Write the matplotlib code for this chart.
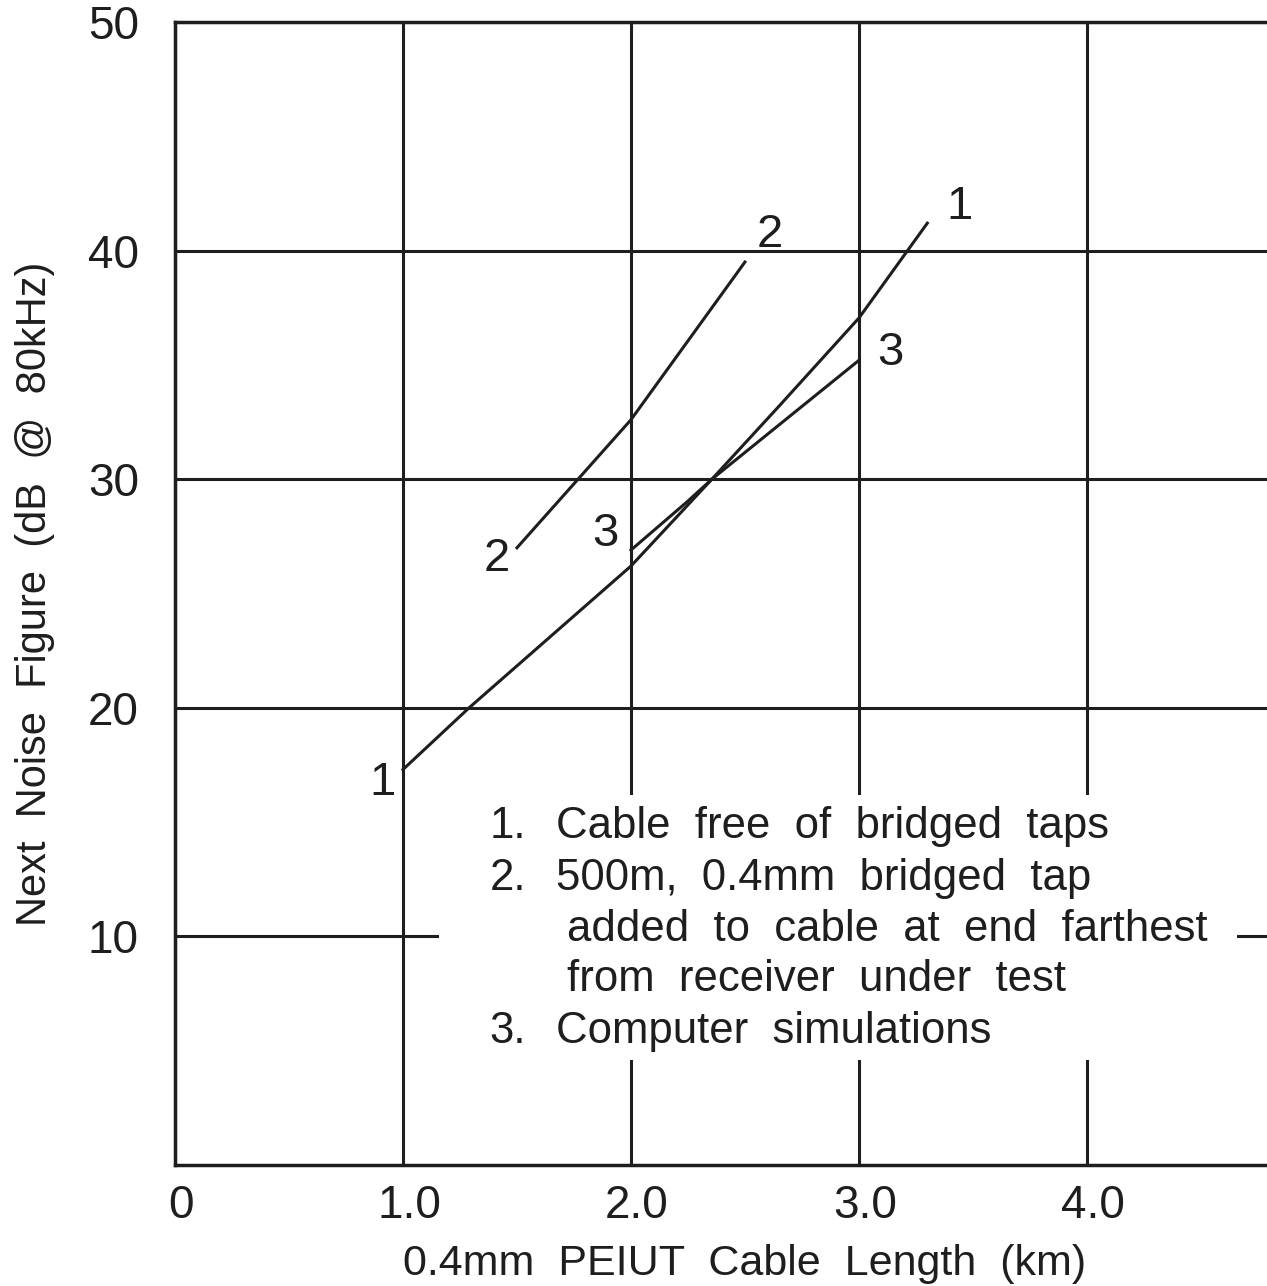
import matplotlib
matplotlib.use('Agg')
from matplotlib import pyplot as plt
from matplotlib.patches import Rectangle
from matplotlib.transforms import ScaledTranslation

plt.rcParams['font.family'] = ['Liberation Sans', 'DejaVu Sans']

# Curve 1: cable free of bridged taps
x1 = [1.0, 1.29, 2.0, 2.355, 2.65, 3.0, 3.3]
y1 = [17.3, 20.0, 26.2, 30.0, 33.2, 37.05, 41.2]
# Curve 2: 500 m, 0.4 mm bridged tap
x2 = [1.5, 2.0, 2.5]
y2 = [27.0, 32.6, 39.5]
# Curve 3: computer simulations
x3 = [2.0, 2.245, 2.355, 3.0]
y3 = [26.9, 29.0, 30.0, 35.2]

xticks = [0, 1.0, 2.0, 3.0, 4.0]
xticklabels = ['0', '1.0', '2.0', '3.0', '4.0']
yticks = [10, 20, 30, 40, 50]

legend_nums = ['1.', '2.', '', '', '3.']
legend_texts = ['Cable  free  of  bridged  taps',
                '500m,  0.4mm  bridged  tap',
                'added  to  cable  at  end  farthest',
                'from  receiver  under  test',
                'Computer  simulations']

ink = '#1e1e1e'

fig = plt.figure(figsize=(12.67, 12.86), dpi=100)
ax = fig.add_axes([175/1267, 1 - 1165/1286, 1 - 175/1267, (1165 - 22)/1286])

ax.set_xlim(0, 4.79)
ax.set_ylim(0, 50)

for s in ['left', 'top', 'bottom']:
    ax.spines[s].set_linewidth(2.5)
    ax.spines[s].set_color(ink)
ax.spines['right'].set_visible(False)

ax.set_xticks(xticks)
ax.set_xticklabels(xticklabels)
ax.set_yticks(yticks)
ax.tick_params(length=0, labelsize=33, colors=ink)
ax.tick_params(axis='x', pad=14)
ax.tick_params(axis='y', pad=26)
for lbl in ax.get_xticklabels():
    lbl.set_transform(lbl.get_transform() + ScaledTranslation(0.06, 0, fig.dpi_scale_trans))

ax.set_axisbelow(True)
ax.grid(True, color=ink, linewidth=2.2)

# blank area behind the legend text, as in the original
ax.add_patch(Rectangle((1.16, 4.6), 4.66 - 1.16, 16.2 - 4.6,
                       facecolor='white', edgecolor='none', zorder=1))

kw = dict(color=ink, linewidth=2.2, zorder=2)
ax.plot(x1, y1, **kw)
ax.plot(x2, y2, **kw)
ax.plot(x3, y3, **kw)

lab = dict(fontsize=34, color=ink, ha='center', va='center', zorder=3)
ax.text(0.91, 16.7, '1', **lab)
ax.text(3.44, 41.9, '1', **lab)
ax.text(1.41, 26.5, '2', **lab)
ax.text(2.61, 40.7, '2', **lab)
ax.text(1.89, 27.6, '3', **lab)
ax.text(3.14, 35.5, '3', **lab)

ys = [14.8, 12.55, 10.3, 8.1, 5.85]
for num, txt, yy in zip(legend_nums, legend_texts, ys):
    if num:
        ax.text(1.38, yy, num, fontsize=31.5, color=ink, va='center', zorder=3)
        ax.text(1.67, yy, txt, fontsize=31.5, color=ink, va='center', zorder=3)
    else:
        ax.text(1.72, yy, txt, fontsize=31.5, color=ink, va='center', zorder=3)

ax.set_xlabel('0.4mm  PEIUT  Cable  Length  (km)', fontsize=31, color=ink, va='center')
ax.xaxis.set_label_coords(0.522, -0.087)
ax.set_ylabel('Next  Noise  Figure  (dB  @  80kHz)', fontsize=30, color=ink, va='center')
ax.yaxis.set_label_coords(-0.128, 0.5)

fig.savefig('out.png', dpi=100)
